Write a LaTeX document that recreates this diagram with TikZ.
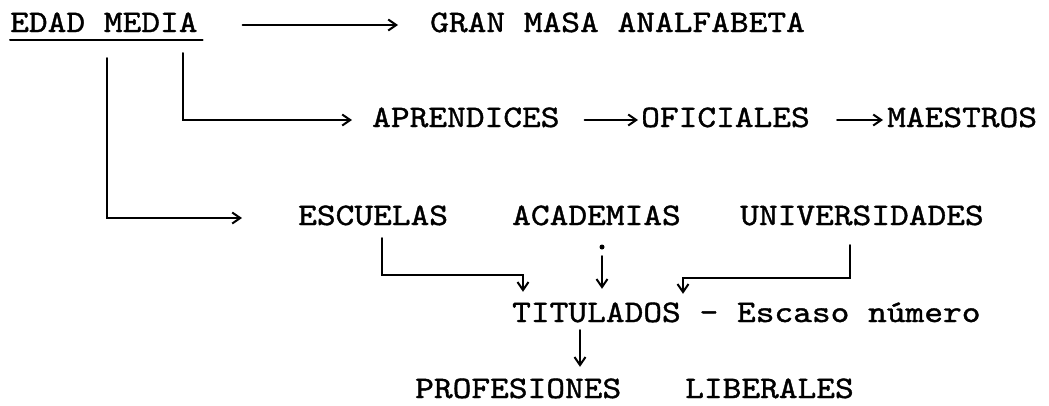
\documentclass[tikz,border=0pt]{standalone}
\usepackage{fontspec}
\newfontfamily\tw{lmmono10-regular.otf}[FakeStretch=1.14,FakeBold=1.2]
\usetikzlibrary{arrows.meta}
\tikzset{
  lbl/.style={anchor=base west, inner sep=0pt, font=\tw\fontsize{31.3}{36}\selectfont, text height=18pt, text depth=4pt},
  ln/.style={line width=2pt, line cap=round},
  arr/.style={ln, -{Straight Barb[length=8pt,width=11pt,line width=2pt]}},
}
\begin{document}
\begin{tikzpicture}[x=1pt,y=-1pt]
\useasboundingbox[fill=white] (0,0) rectangle (1049,405);
% texts
\node[lbl] (edad) at (10,32) {EDAD MEDIA};
\node[lbl] (gran) at (430,32) {GRAN MASA ANALFABETA};
\node[lbl] (apr) at (372,127) {APRENDICES};
\node[lbl] (ofi) at (641,127) {OFICIALES};
\node[lbl] (mae) at (887,127) {MAESTROS};
\node[lbl] (esc) at (298,225) {ESCUELAS};
\node[lbl] (aca) at (512,225) {ACADEMIAS};
\node[lbl] (uni) at (740,225) {UNIVERSIDADES};
\node[lbl] (tit) at (512,322) {TITULADOS - Escaso número};
\node[lbl] (pro) at (415,398) {PROFESIONES};
\node[lbl] (lib) at (685,398) {LIBERALES};
% underline
\draw[ln] ([yshift=-4pt]edad.south west) -- ([yshift=-4pt,xshift=5pt]edad.south east);
% row 1
\draw[arr, shorten <=45pt, shorten >=32pt] (edad.east) -- (gran.west);
% branches from EDAD MEDIA
\coordinate (d1) at (107,58);
\coordinate (d2) at (183,53);
\draw[arr, shorten >=20pt] (d2) |- (apr.west);
\draw[arr, shorten >=56pt] (d1) |- (esc.west);
% row 2
\draw[arr, shorten <=25pt, shorten >=3pt] (apr.east) -- (ofi.west);
\draw[arr, shorten <=27pt, shorten >=4pt] (ofi.east) -- (mae.west);
% ESCUELAS -> TITULADOS
\coordinate (e1) at (382,238);
\coordinate (e2) at (523,275);
\draw[arr, shorten >=12pt] (e1) |- (e2) -- (e2 |- tit.north);
% ACADEMIAS -> TITULADOS
\fill (602,247) circle (2.5pt);
\coordinate (a1) at (602,256);
\draw[arr, shorten >=15pt] (a1) -- (a1 |- tit.north);
% UNIVERSIDADES -> TITULADOS
\coordinate (u1) at (850,245);
\coordinate (u2) at (683,278);
\draw[arr, shorten >=10pt] (u1) |- (u2) -- (u2 |- tit.north);
% TITULADOS -> PROFESIONES
\coordinate (t1) at (580,330);
\draw[arr, shorten >=13pt] (t1) -- (t1 |- pro.north);
\end{tikzpicture}
\end{document}
